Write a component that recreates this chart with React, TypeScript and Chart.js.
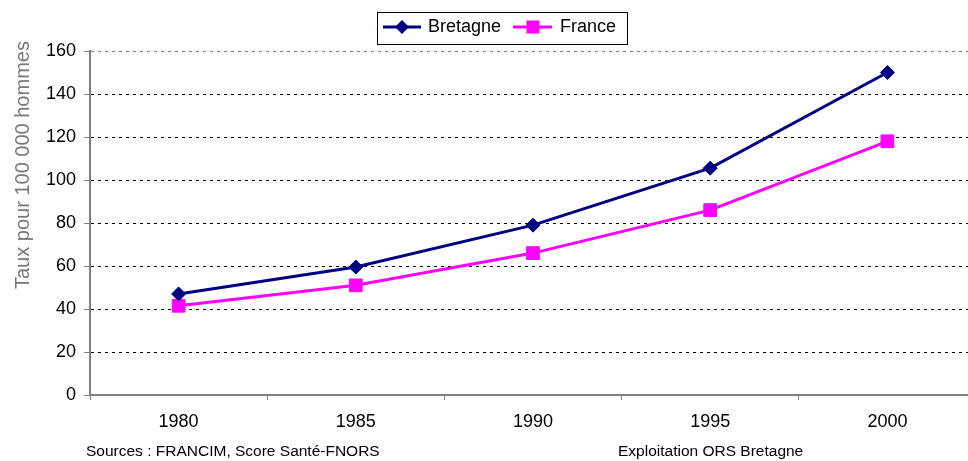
import React, { useEffect, useRef } from "react";
import { Chart, registerables } from "chart.js";

Chart.register(...registerables);

const years = ["1980", "1985", "1990", "1995", "2000"];
const bretagne = [47, 59.5, 79, 105.5, 150];
const france = [41.5, 51, 66, 86, 118];
const yTicks = [0, 20, 40, 60, 80, 100, 120, 140, 160];
const seriesNames = ["Bretagne", "France"];
const yTitle = "Taux pour 100 000 hommes";
const sourceText = "Sources : FRANCIM, Score Santé-FNORS";
const creditText = "Exploitation ORS Bretagne";

const FONT = "'Liberation Sans', Arial, sans-serif";
const NAVY = "#000080";
const MAGENTA = "#FF00FF";
const GRAY = "#808080";

const legendPlugin = {
  id: "boxLegend",
  afterDraw(chart: any) {
    const ctx = chart.ctx as CanvasRenderingContext2D;
    ctx.save();
    ctx.strokeStyle = "#000";
    ctx.lineWidth = 1;
    ctx.strokeRect(377.5, 12.5, 250, 32);
    const cy = 27;
    ctx.strokeStyle = NAVY;
    ctx.lineWidth = 3;
    ctx.beginPath();
    ctx.moveTo(383, cy);
    ctx.lineTo(421, cy);
    ctx.stroke();
    ctx.fillStyle = NAVY;
    ctx.beginPath();
    ctx.moveTo(402 - 7, cy);
    ctx.lineTo(402, cy - 7);
    ctx.lineTo(402 + 7, cy);
    ctx.lineTo(402, cy + 7);
    ctx.closePath();
    ctx.fill();
    ctx.strokeStyle = MAGENTA;
    ctx.beginPath();
    ctx.moveTo(513, cy);
    ctx.lineTo(552, cy);
    ctx.stroke();
    ctx.fillStyle = MAGENTA;
    ctx.fillRect(533 - 6.5, cy - 6.5, 13, 13);
    ctx.fillStyle = "#000";
    ctx.font = `18px ${FONT}`;
    ctx.textBaseline = "middle";
    ctx.textAlign = "left";
    ctx.fillText(seriesNames[0], 428, cy);
    ctx.fillText(seriesNames[1], 560, cy);
    ctx.restore();
  },
};

export default function App() {
  const ref = useRef<HTMLCanvasElement>(null);

  useEffect(() => {
    if (!ref.current) return;
    const chart = new Chart(ref.current, {
      type: "line",
      data: {
        labels: years,
        datasets: [
          {
            label: seriesNames[0],
            data: bretagne,
            borderColor: NAVY,
            backgroundColor: NAVY,
            borderWidth: 3,
            pointStyle: "rectRot",
            pointRadius: 7,
            pointBorderWidth: 1,
            pointBorderColor: NAVY,
            pointBackgroundColor: NAVY,
            tension: 0,
          },
          {
            label: seriesNames[1],
            data: france,
            borderColor: MAGENTA,
            backgroundColor: MAGENTA,
            borderWidth: 3,
            pointStyle: "rect",
            pointRadius: 9,
            pointBorderWidth: 1,
            pointBorderColor: MAGENTA,
            pointBackgroundColor: MAGENTA,
            tension: 0,
          },
        ],
      },
      options: {
        responsive: false,
        animation: false,
        devicePixelRatio: 1,
        layout: { padding: { top: 51, right: 14, bottom: 0, left: 0 } },
        plugins: {
          legend: { display: false },
          tooltip: { enabled: false },
          title: { display: false },
        },
        scales: {
          x: {
            type: "category",
            offset: true,
            grid: {
              offset: true,
              drawOnChartArea: false,
              drawTicks: true,
              tickLength: 5,
              tickColor: GRAY,
              tickWidth: 1,
            },
            border: { display: true, color: GRAY, width: 2 },
            ticks: {
              color: "#000",
              font: { family: FONT, size: 18 },
              padding: 11,
              maxRotation: 0,
              autoSkip: false,
            },
            afterFit(scale: any) {
              scale.height = 66;
            },
          },
          y: {
            min: 0,
            max: 160,
            afterBuildTicks(scale: any) {
              scale.ticks = yTicks.map((v) => ({ value: v }));
            },
            grid: {
              color: (c: any) =>
                c.tick && c.tick.value === 0
                  ? "rgba(0,0,0,0)"
                  : c.tick && c.tick.value === 160
                  ? GRAY
                  : "#000",
              lineWidth: 1,
              drawTicks: true,
              tickLength: 6,
              tickColor: GRAY,
              tickWidth: 1,
              tickBorderDash: [],
            },
            border: { display: true, color: GRAY, width: 2, dash: [3, 4] },
            ticks: {
              color: "#000",
              font: { family: FONT, size: 18 },
              padding: 8,
            },
            afterFit(scale: any) {
              scale.width = 90;
            },
          },
        },
      },
      plugins: [legendPlugin],
    });
    return () => chart.destroy();
  }, []);

  return (
    <div
      style={{
        position: "absolute",
        left: 0,
        top: 0,
        width: 968,
        height: 461,
        overflow: "hidden",
        background: "#fff",
      }}
    >
      <canvas
        ref={ref}
        width={990}
        height={461}
        style={{ position: "absolute", left: 0, top: 0, width: 990, height: 461 }}
      />
      <div
        style={{
          position: "absolute",
          left: 22,
          top: 165,
          transform: "translate(-50%, -50%) rotate(-90deg)",
          whiteSpace: "nowrap",
          fontFamily: FONT,
          fontSize: 20,
          lineHeight: "20px",
          color: "#777",
        }}
      >
        {yTitle}
      </div>
      <div
        style={{
          position: "absolute",
          left: 86,
          top: 443,
          whiteSpace: "nowrap",
          fontFamily: FONT,
          fontSize: 15.5,
          lineHeight: "15.5px",
          color: "#000",
        }}
      >
        {sourceText}
      </div>
      <div
        style={{
          position: "absolute",
          left: 618,
          top: 443,
          whiteSpace: "nowrap",
          fontFamily: FONT,
          fontSize: 15.5,
          lineHeight: "15.5px",
          color: "#000",
        }}
      >
        {creditText}
      </div>
    </div>
  );
}
